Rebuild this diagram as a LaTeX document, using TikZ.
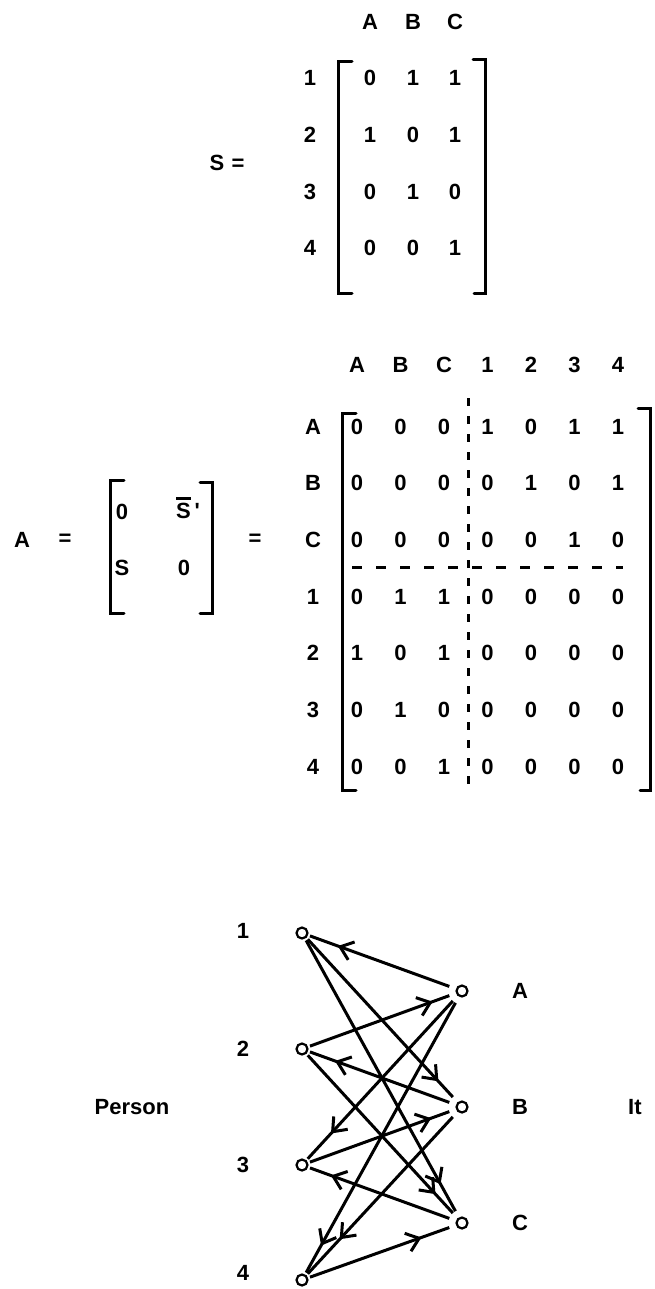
\documentclass[tikz,border=0pt]{standalone}
\usepackage{fontspec}
\setmainfont{Liberation Sans}
\usetikzlibrary{arrows.meta,decorations.markings}

\begin{document}
\begin{tikzpicture}[x=1pt,y=-1pt,>={Straight Barb[length=12pt,width=19pt,line width=3pt]},font=\fontsize{22}{26}\selectfont\bfseries]
\tikzstyle{t}=[inner sep=1pt]
\tikzstyle{br}=[line width=3pt,line cap=round]
\tikzstyle{dl}=[line width=3pt]
\tikzstyle{pnode}=[draw,circle,line width=2.2pt,minimum size=11pt,inner sep=0pt,outer sep=3pt]
\tikzstyle{inode}=[pnode,outer sep=8pt]
\tikzset{arr/.style={line width=3pt,postaction={decorate},decoration={markings,mark=at position #1 with {\arrow{>}}}},arr/.default=0.85}
\useasboundingbox (0,0) rectangle (654,1289);

% S matrix
\node[t] (sEq) at (227,163) {S\,\,=};
\foreach \c/\x in {A/370,B/413,C/455} \node[t] (sc\c) at (\x,22) {\c};
\foreach \r/\y/\a/\b/\c in {1/78/0/1/1,2/135/1/0/1,3/192/0/1/0,4/248/0/0/1} {
  \node[t] (sr\r) at (310,\y) {\r};
  \node[t] (s\r A) at (370,\y) {\a}; \node[t] (s\r B) at (413,\y) {\b}; \node[t] (s\r C) at (455,\y) {\c};
}
\draw[br] (352,62) -- (338,62) -- (338,293) -- (352,293);
\draw[br] (473,60) -- (485,60) -- (485,293) -- (474,293);

% A in blocks
\node[t] (aA) at (22,540) {A};
\node[t] (aEq) at (65,540) {=};
\node[t] (b11) at (122,512) {0};
\node[t] (b12) at (188,508) {\leavevmode\vbox{\hrule height 2.5pt\kern 3pt\hbox{S}}\,\textquotesingle};
\node[t] (b21) at (122,568) {S};
\node[t] (b22) at (184,568) {0};
\draw[br] (124,480) -- (110,480) -- (110,613) -- (124,613);
\draw[br] (200,482) -- (212,482) -- (212,613) -- (200,613);
\node[t] (aEq2) at (255,540) {=};

% full A matrix
\foreach \c [count=\j] in {A,B,C,1,2,3,4} \node[t] (mc\c) at ({313.5+43.5*\j},365) {\c};
\foreach \r/\y/\row in {A/427/{0,0,0,1,0,1,1},B/483/{0,0,0,0,1,0,1},C/540/{0,0,0,0,0,1,0},1/597/{0,1,1,0,0,0,0},2/653/{1,0,1,0,0,0,0},3/710/{0,1,0,0,0,0,0},4/767/{0,0,1,0,0,0,0}} {
  \node[t] (mr\r) at (313,\y) {\r};
  \foreach \v [count=\j] in \row \node[t] (m\r\j) at ({313.5+43.5*\j},\y) {\v};
}
\draw[br] (356,413) -- (342,413) -- (342,790) -- (356,790);
\draw[br] (638,408) -- (650,408) -- (650,790) -- (640,790);
\draw[dl,dash pattern=on 8pt off 10pt] (468,398) -- (468,785);
\draw[dl,dash pattern=on 10pt off 14pt] (352,567) -- (623,567);

% bipartite graph
\foreach \i/\y/\ly in {1/933/931,2/1049/1049,3/1165/1165,4/1280/1273} {
  \node[pnode] (p\i) at (302,\y) {};
  \node[t] (lp\i) at (243,\ly) {\i};
}
\foreach \i/\y in {A/991,B/1107,C/1223} {
  \node[inode] (i\i) at (462,\y) {};
  \node[t] (li\i) at (520,\y) {\i};
}
\node[t] (person) at (132,1107) {Person};
\node[t,anchor=west] (items) at (627,1107) {It};
\foreach \a/\b/\p in {iA/p1/0.8,iA/p3/0.84,iA/p4/0.9,iB/p2/0.82,iB/p4/0.78,iC/p3/0.85,p1/iB/0.9,p1/iC/0.9,p2/iA/0.88,p2/iC/0.88,p3/iB/0.87,p4/iC/0.8}
  \draw[arr=\p] (\a) -- (\b);
\end{tikzpicture}
\end{document}
